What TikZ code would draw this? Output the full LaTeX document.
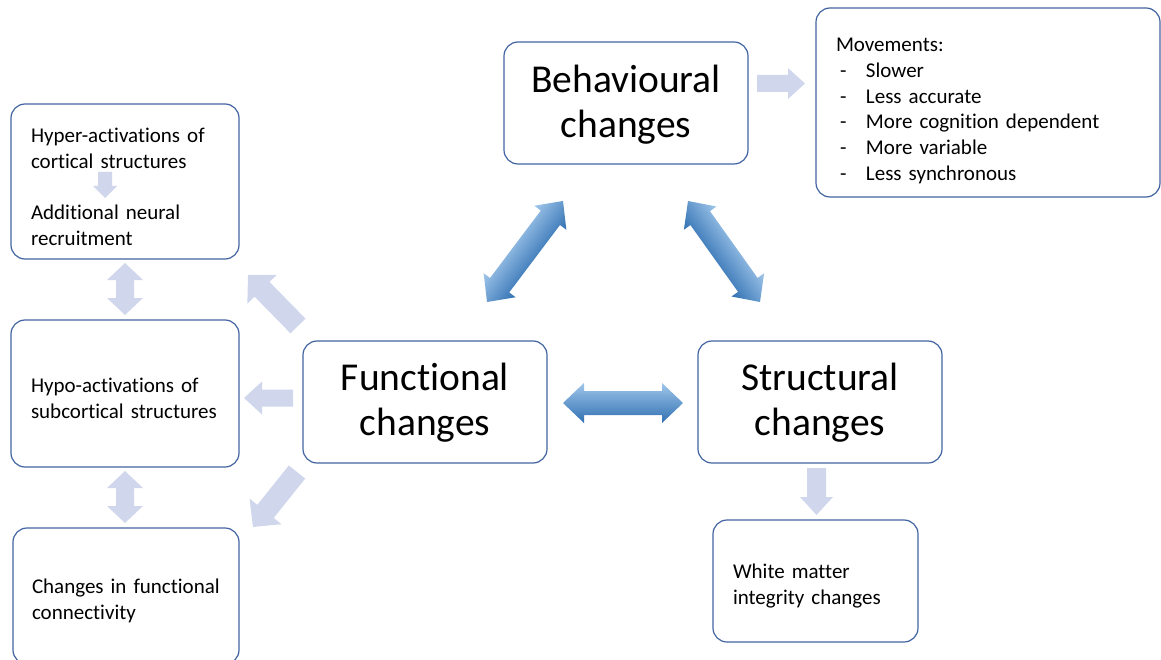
\documentclass[tikz,border=0pt]{standalone}
\usepackage{fontspec}
\setmainfont{Carlito}[Ligatures=NoCommon]
\usetikzlibrary{calc}

\definecolor{boxline}{RGB}{65,100,160}
\definecolor{lavender}{RGB}{208,215,237}
\definecolor{bluelight}{RGB}{160,198,234}
\definecolor{bluedark}{RGB}{48,112,178}

\newcommand{\bigtext}{\fontsize{39.5}{45}\selectfont}
\newcommand{\smalltext}{\fontsize{21}{25.8}\selectfont}
\newcommand{\dashitem}{\makebox[30pt][l]{\hspace{4pt}-}}
\newcommand{\lift}[1]{\rule{0pt}{#1}}

% fat arrow from #2 to #3: style, half shaft, half head, head length, double?
\newcommand{\fatarrow}[7]{%
  \path (#2); \pgfgetlastxy{\fatax}{\fatay}
  \path (#3); \pgfgetlastxy{\fatbx}{\fatby}
  \pgfmathsetmacro{\fatang}{atan2(\fatby-\fatay,\fatbx-\fatax)}
  \pgfmathsetmacro{\fathl}{veclen(\fatbx-\fatax,\fatby-\fatay)/2}
  \pgfmathsetmacro{\fatmx}{(\fatax+\fatbx)/2}
  \pgfmathsetmacro{\fatmy}{(\fatay+\fatby)/2}
  \pgfmathsetmacro{\fatk}{\fathl-#6}
  \begin{scope}[transform canvas={shift={(\fatmx pt,\fatmy pt)}, rotate=\fatang}]
    \ifnum#7=1
      \path[#1] (-\fathl pt,0pt) -- (-\fatk pt,#5pt) -- (-\fatk pt,#4pt) -- (\fatk pt,#4pt)
        -- (\fatk pt,#5pt) -- (\fathl pt,0pt) -- (\fatk pt,-#5pt) -- (\fatk pt,-#4pt)
        -- (-\fatk pt,-#4pt) -- (-\fatk pt,-#5pt) -- cycle;
    \else
      \path[#1] (-\fathl pt,#4pt) -- (\fatk pt,#4pt) -- (\fatk pt,#5pt) -- (\fathl pt,0pt)
        -- (\fatk pt,-#5pt) -- (\fatk pt,-#4pt) -- (-\fathl pt,-#4pt) -- cycle;
    \fi
  \end{scope}}

\tikzset{
  box/.style={draw=boxline, line width=1.2pt, rounded corners=14pt, fill=white, inner sep=0pt},
  bigbox/.style={box, minimum width=244pt, minimum height=122pt, font=\bigtext, align=center},
  smallbox/.style={box, font=\smalltext, align=left},
  bluefill/.style={top color=bluelight, bottom color=bluedark},
  lavfill/.style={fill=lavender},
}

\begin{document}
\begin{tikzpicture}[x=1pt, y=-1pt]
	\useasboundingbox (0,0) rectangle (1161,660);

	% main boxes
	\node (beh) at (626,103) [bigbox] {\lift{30pt}Behavioural\\changes};
	\node (fun) at (425,402) [bigbox] {\lift{29.5pt}Functional\\changes};
	\node (str) at (820,402) [bigbox] {\lift{29.5pt}Structural\\changes};

	% side boxes
	\node (mov) at (988,102.5) [smallbox, minimum width=344pt, minimum height=189pt, text width=304pt]
		{\lift{30.5pt}Movements:\\\dashitem Slower\\\dashitem Less accurate\\\dashitem More cognition dependent\\\dashitem More variable\\\dashitem Less synchronous};
	\node (hyper) at (125,181.5) [smallbox, minimum width=228pt, minimum height=155pt, text width=188pt]
		{\lift{25.5pt}Hyper-activations of\\cortical structures\\[25.8pt]Additional neural\\recruitment};
	\node (hypo) at (125,393.5) [smallbox, minimum width=228pt, minimum height=147pt, text width=188pt]
		{\lift{24pt}Hypo-activations of\\subcortical structures};
	\node (conn) at (126,596) [smallbox, minimum width=226pt, minimum height=136pt, text width=188pt]
		{\lift{25pt}Changes in functional\\connectivity};
	\node (white) at (815.5,581) [smallbox, minimum width=205pt, minimum height=122pt, text width=165pt]
		{\lift{24.5pt}White matter\\integrity changes};

	% arrow ends
	\coordinate (fs1) at (563,403);   \coordinate (fs2) at (683,403);
	\coordinate (bf1) at (487,302);   \coordinate (bf2) at (563,201);
	\coordinate (bs1) at (688,201);   \coordinate (bs2) at (760,302);
	\coordinate (bm1) at (757,83.5);  \coordinate (bm2) at (805,83.5);
	\coordinate (sw1) at (816.5,468); \coordinate (sw2) at (816.5,515);
	\coordinate (hy1) at (105,172);   \coordinate (hy2) at (105,198);
	\coordinate (lv1) at (125,263);   \coordinate (lv2) at (125,315);
	\coordinate (lv3) at (125,471);   \coordinate (lv4) at (125,523);
	\coordinate (fh1) at (298,326);   \coordinate (fh2) at (248,275);
	\coordinate (fo1) at (293,398);   \coordinate (fo2) at (244,398);
	\coordinate (fc1) at (297,472);   \coordinate (fc2) at (253,527);

	% blue double arrows between the three changes
	\fatarrow{bluefill}{fs1}{fs2}{12}{20}{21}{1}
	\fatarrow{bluefill}{bf1}{bf2}{12}{20}{21}{1}
	\fatarrow{bluefill}{bs1}{bs2}{12}{20}{21}{1}

	% light arrows
	\fatarrow{lavfill}{bm1}{bm2}{8.5}{15.5}{17}{0}
	\fatarrow{lavfill}{sw1}{sw2}{9.5}{16.5}{18}{0}
	\fatarrow{lavfill}{hy1}{hy2}{7}{12}{12}{0}
	\fatarrow{lavfill}{lv1}{lv2}{9}{18}{17}{1}
	\fatarrow{lavfill}{lv3}{lv4}{9}{18}{17}{1}
	\fatarrow{lavfill}{fh1}{fh2}{10.5}{20.5}{20}{0}
	\fatarrow{lavfill}{fo1}{fo2}{8.5}{16.5}{18}{0}
	\fatarrow{lavfill}{fc1}{fc2}{10.5}{20.5}{20}{0}
\end{tikzpicture}
\end{document}
